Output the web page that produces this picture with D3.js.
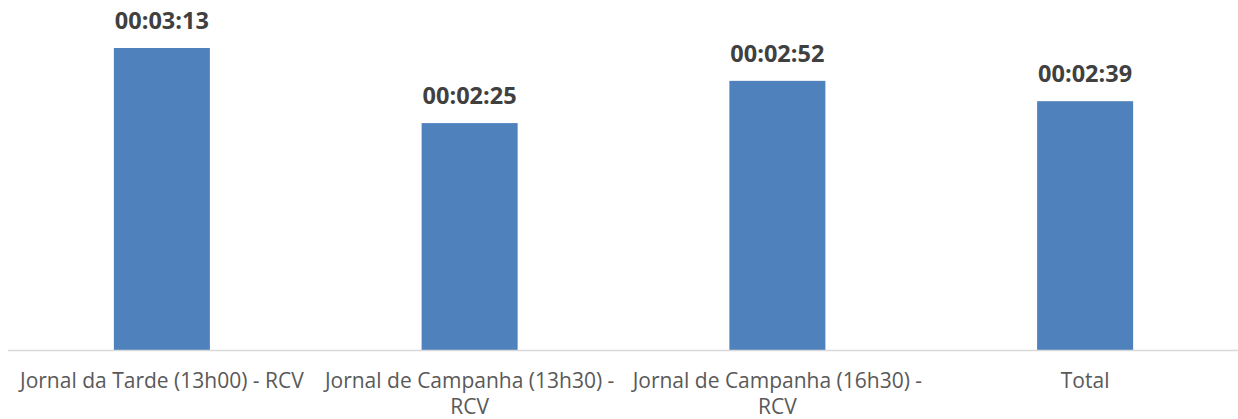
<!DOCTYPE html>
<html>
<head>
<meta charset="utf-8">
<script src="https://cdn.jsdelivr.net/npm/d3@7"></script>
<style>
    html, body { margin: 0; padding: 0; background: #fff; }
    svg { display: block; }
    .cat text { font-family: "Open Sans", sans-serif; font-size: 21px; fill: #595959; }
    .value { font-family: "Open Sans", sans-serif; font-size: 23.5px; font-weight: bold; fill: #404040; }
</style>
</head>
<body>
<svg id="chart"></svg>
<script>
// programas e tempo medio (segundos)
var categories = [
    "Jornal da Tarde (13h00) - RCV",
    "Jornal de Campanha (13h30) - RCV",
    "Jornal de Campanha (16h30) - RCV",
    "Total"
];
var durations = [193, 145, 172, 159];
var yMax = 216;

var width = 1238;
var height = 419;
var plotLeft = 8, plotRight = 1239, baseY = 350, plotTop = 12;

var svg = d3.select('#chart')
    .attr('width', width)
    .attr('height', height);

var x = d3.scaleBand()
    .domain(categories)
    .range([plotLeft, plotRight])
    .paddingInner(0.688)
    .paddingOuter(0.344);

var y = d3.scaleLinear()
    .domain([0, yMax])
    .range([baseY, plotTop]);

function fmt(s) {
    var h = Math.floor(s / 3600), m = Math.floor((s % 3600) / 60), sec = s % 60;
    return [h, m, sec].map(d => (d < 10 ? '0' : '') + d).join(':');
}

var data = categories.map((c, i) => ({ cat: c, val: durations[i] }));

svg.selectAll('.bar')
    .data(data)
    .enter()
    .append('rect')
    .attr('class', 'bar')
    .attr('x', d => x(d.cat))
    .attr('y', d => y(d.val))
    .attr('width', x.bandwidth())
    .attr('height', d => baseY - y(d.val))
    .attr('fill', '#4f81bd');

// eixo x
var axis = svg.append('g')
    .attr('class', 'cat')
    .attr('transform', 'translate(0,' + baseY + ')')
    .call(d3.axisBottom(x).tickSize(0).tickPadding(0));

axis.select('.domain')
    .attr('d', 'M' + plotLeft + ',0.5H' + width)
    .attr('stroke', '#d9d9d9')
    .attr('stroke-width', 1.5);

axis.selectAll('.tick text')
    .attr('fill', null)
    .call(wrap, x.step() - 4);

svg.selectAll('.value')
    .data(data)
    .enter()
    .append('text')
    .attr('class', 'value')
    .attr('x', d => x(d.cat) + x.bandwidth() / 2)
    .attr('y', d => y(d.val) - 19)
    .attr('text-anchor', 'middle')
    .text(d => fmt(d.val));

function wrap(sel, maxW) {
    sel.each(function () {
        var text = d3.select(this);
        var words = text.text().split(/\s+/);
        text.text(null).attr('y', null).attr('dy', null);
        var lines = [], line = [];
        var probe = text.append('tspan');
        words.forEach(w => {
            line.push(w);
            probe.text(line.join(' '));
            if (probe.node().getComputedTextLength() > maxW && line.length > 1) {
                line.pop();
                lines.push(line.join(' '));
                line = [w];
            }
        });
        lines.push(line.join(' '));
        probe.remove();
        lines.forEach((l, i) => {
            text.append('tspan')
                .attr('x', 0)
                .attr('y', 38 + i * 26)
                .text(l);
        });
    });
}
</script>
</body>
</html>
